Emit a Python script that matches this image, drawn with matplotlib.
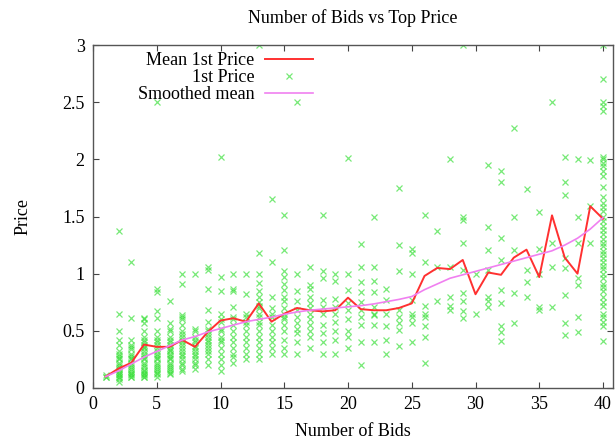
import matplotlib
matplotlib.use("Agg")
import matplotlib.pyplot as plt

plt.rcParams['font.family'] = ['Liberation Serif', 'DejaVu Serif']

bids = list(range(1, 41))

mean_price = [0.10, 0.17, 0.22, 0.38, 0.36, 0.36, 0.42, 0.36, 0.49, 0.59,
              0.61, 0.58, 0.74, 0.58, 0.65, 0.70, 0.68, 0.67, 0.68, 0.79,
              0.69, 0.68, 0.68, 0.70, 0.74, 0.98, 1.05, 1.04, 1.12, 0.82,
              1.01, 0.99, 1.14, 1.21, 0.97, 1.51, 1.14, 1.00, 1.59, 1.48]

smoothed_mean = [0.10, 0.15, 0.21, 0.27, 0.32, 0.37, 0.42, 0.45, 0.49, 0.52,
                 0.55, 0.58, 0.60, 0.62, 0.645, 0.665, 0.68, 0.69, 0.70, 0.71,
                 0.72, 0.735, 0.755, 0.775, 0.80, 0.86, 0.91, 0.96, 0.99, 1.02,
                 1.05, 1.08, 1.11, 1.14, 1.17, 1.20, 1.25, 1.31, 1.39, 1.49]

# first prices observed for each number of bids (index 0 -> 1 bid)
first_price = [
    [0.10, 0.10, 0.11],
    [1.37, 0.65, 0.50, 0.42, 0.38, 0.32, 0.30, 0.28, 0.26, 0.25, 0.22, 0.20, 0.18, 0.17,
     0.15, 0.13, 0.12, 0.11, 0.10, 0.10, 0.08, 0.05],
    [1.10, 0.61, 0.42, 0.38, 0.36, 0.34, 0.30, 0.28, 0.26, 0.25, 0.22, 0.20, 0.18, 0.17,
     0.15, 0.13, 0.12, 0.11, 0.10, 0.10],
    [0.61, 0.60, 0.57, 0.50, 0.45, 0.42, 0.40, 0.38, 0.36, 0.35, 0.32, 0.30, 0.28, 0.26,
     0.25, 0.22, 0.20, 0.18, 0.16, 0.15, 0.13, 0.12, 0.11, 0.10, 0.10],
    [2.50, 0.87, 0.84, 0.67, 0.61, 0.50, 0.45, 0.42, 0.40, 0.38, 0.35, 0.32, 0.30, 0.28,
     0.26, 0.25, 0.22, 0.20, 0.18, 0.17, 0.15, 0.13, 0.12, 0.10],
    [0.76, 0.57, 0.52, 0.50, 0.45, 0.42, 0.40, 0.38, 0.35, 0.33, 0.32, 0.30, 0.28, 0.26,
     0.25, 0.22, 0.20, 0.18, 0.17, 0.15, 0.13, 0.12],
    [1.00, 0.91, 0.64, 0.62, 0.60, 0.55, 0.50, 0.47, 0.45, 0.42, 0.40, 0.38, 0.35, 0.32,
     0.30, 0.28, 0.25, 0.22, 0.20, 0.17, 0.15],
    [1.00, 0.52, 0.50, 0.45, 0.42, 0.40, 0.37, 0.35, 0.32, 0.30, 0.28, 0.25, 0.22, 0.20,
     0.17],
    [1.06, 1.03, 0.87, 0.68, 0.58, 0.52, 0.50, 0.47, 0.45, 0.42, 0.40, 0.38, 0.35, 0.32,
     0.30, 0.25, 0.20],
    [2.02, 0.97, 0.85, 0.65, 0.60, 0.58, 0.52, 0.50, 0.45, 0.42, 0.40, 0.35, 0.30, 0.25,
     0.20, 0.15],
    [1.00, 0.87, 0.85, 0.71, 0.62, 0.60, 0.55, 0.50, 0.45, 0.40, 0.35, 0.30, 0.27, 0.22],
    [1.00, 0.82, 0.65, 0.62, 0.58, 0.55, 0.50, 0.45, 0.40, 0.35, 0.30, 0.25],
    [3.00, 1.18, 1.00, 0.92, 0.85, 0.80, 0.75, 0.72, 0.70, 0.65, 0.62, 0.58, 0.55, 0.50,
     0.45, 0.40, 0.35, 0.30, 0.25],
    [1.65, 1.10, 0.80, 0.70, 0.65, 0.62, 0.55, 0.50, 0.45, 0.40, 0.35, 0.30],
    [1.51, 1.21, 1.02, 0.97, 0.91, 0.86, 0.80, 0.76, 0.70, 0.65, 0.62, 0.60, 0.55, 0.50,
     0.42, 0.35, 0.30],
    [2.50, 1.00, 0.85, 0.76, 0.68, 0.62, 0.57, 0.52, 0.48, 0.40, 0.30],
    [1.06, 0.90, 0.87, 0.80, 0.74, 0.70, 0.65, 0.60, 0.55, 0.50, 0.45, 0.35],
    [1.51, 1.02, 0.96, 0.77, 0.71, 0.65, 0.55, 0.48, 0.40, 0.30],
    [1.00, 0.94, 0.78, 0.71, 0.65, 0.58, 0.50, 0.42, 0.30],
    [2.01, 1.00, 0.86, 0.74, 0.68, 0.60, 0.50, 0.45, 0.35],
    [1.26, 1.06, 0.93, 0.84, 0.75, 0.68, 0.62, 0.55, 0.40, 0.20],
    [1.50, 1.06, 0.94, 0.84, 0.71, 0.65, 0.64, 0.55, 0.40],
    [0.87, 0.77, 0.65, 0.54, 0.42, 0.30],
    [1.75, 1.25, 1.02, 0.68, 0.62, 0.57, 0.51, 0.37],
    [1.22, 1.18, 1.00, 0.77, 0.65, 0.62, 0.57, 0.40],
    [1.51, 1.10, 0.72, 0.65, 0.62, 0.54, 0.45, 0.22],
    [1.37, 1.06, 0.76],
    [2.00, 1.06, 0.80, 0.72, 0.68],
    [3.00, 1.50, 1.47, 1.27, 1.03, 0.83, 0.76, 0.67, 0.61],
    [1.00, 0.65],
    [1.95, 1.41, 1.21, 1.03, 0.80, 0.76, 0.71],
    [1.90, 1.80, 1.31, 1.12, 0.86, 0.74, 0.54, 0.49, 0.41],
    [2.27, 1.50, 1.21, 0.83, 0.57],
    [1.74, 1.03, 0.93, 0.80],
    [1.54, 1.22, 1.00, 0.71, 0.68],
    [2.50, 1.27, 1.06, 0.71],
    [2.02, 1.80, 1.69, 1.14, 1.05, 0.81, 0.57, 0.46],
    [2.00, 1.50, 1.27, 0.96, 0.90, 0.62, 0.49],
    [1.99, 1.59, 1.27],
    [3.00, 2.70, 2.50, 2.47, 2.42, 2.02, 2.00, 1.97, 1.94, 1.90, 1.85, 1.76, 1.67, 1.62,
     1.58, 1.55, 1.50, 1.46, 1.42, 1.38, 1.35, 1.30, 1.27, 1.24, 1.20, 1.17, 1.14, 1.10,
     1.07, 1.04, 1.00, 0.96, 0.91, 0.88, 0.85, 0.80, 0.75, 0.72, 0.65, 0.62, 0.58, 0.54, 0.41],
]

x_ticks = [0, 5, 10, 15, 20, 25, 30, 35, 40]
y_ticks = [0, 0.5, 1, 1.5, 2, 2.5, 3]
y_tick_labels = ['0', '0.5', '1', '1.5', '2', '2.5', '3']

scatter_x = [b for b, ys in zip(bids, first_price) for _ in ys]
scatter_y = [y for ys in first_price for y in ys]

W, H = 616, 443
fig = plt.figure(figsize=(W / 100, H / 100), dpi=100)
L, R, T, B = 93, 612.7, 45, 388
ax = fig.add_axes([L / W, 1 - B / H, (R - L) / W, (B - T) / H])

FS = 13
ax.plot(bids, mean_price, color='#ff3030', lw=1.4, label='Mean 1st Price', zorder=3)
ax.plot(scatter_x, scatter_y, linestyle='none', marker='x', markersize=5,
        markeredgewidth=0.9, color='#3ee03e', alpha=0.7, label='1st Price', zorder=2)
ax.plot(bids, smoothed_mean, color='#f080f0', lw=1.2, label='Smoothed mean', zorder=4)

ax.set_xlim(0, 40.76)
ax.set_ylim(0, 3)
ax.set_xticks(x_ticks)
ax.set_xticklabels([str(t) for t in x_ticks])
ax.set_yticks(y_ticks)
ax.set_yticklabels(y_tick_labels)
ax.tick_params(direction='in', top=True, right=True, length=4, width=0.8,
               labelsize=FS, color='#444444')
ax.tick_params(axis='x', pad=6)
ax.tick_params(axis='y', pad=6)
for s in ax.spines.values():
    s.set_linestyle((0, (1, 1)))
    s.set_color('#555555')
    s.set_linewidth(1.0)

ax.set_xlabel('Number of Bids', fontsize=FS)
ax.xaxis.set_label_coords(0.5, (B - 432) / (B - T))
ax.xaxis.label.set_va('center')
ax.set_ylabel('Price', fontsize=FS)
ax.yaxis.set_label_coords((23 - L) / (R - L), 0.5)
ax.yaxis.label.set_va('center')

fig.text(353 / W, 1 - 18 / H, 'Number of Bids vs Top Price', ha='center', va='center', fontsize=FS)

leg = ax.legend(loc='upper right', bbox_to_anchor=((313 - L) / (R - L), (B - 52) / (B - T)),
                frameon=False, markerfirst=False, fontsize=FS, borderpad=0, borderaxespad=0,
                handlelength=2.65, handletextpad=0.6, labelspacing=0.0)

fig.savefig('out.png', dpi=100)
